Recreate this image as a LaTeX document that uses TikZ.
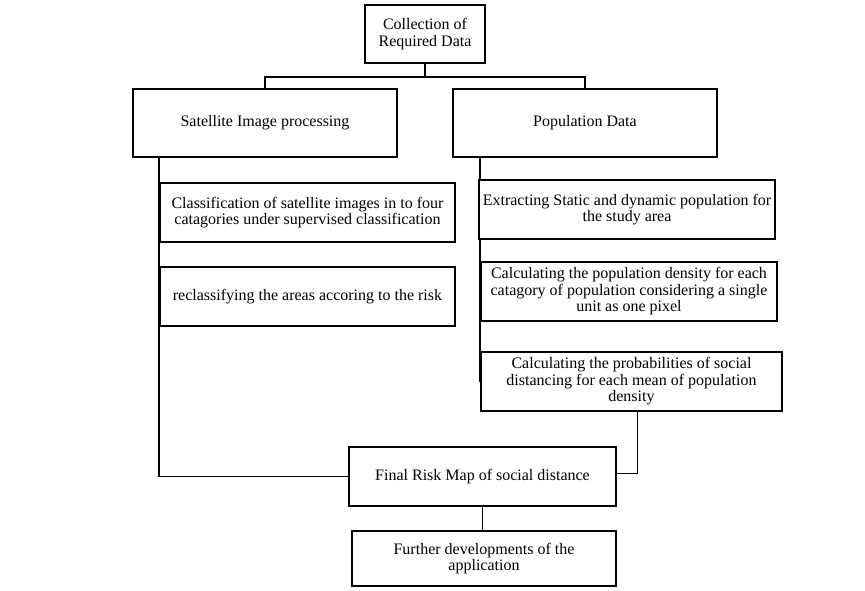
\documentclass[tikz,border=0pt]{standalone}
\usepackage{fontspec}
\setmainfont{Liberation Serif}
\begin{document}
\begin{tikzpicture}[x=1pt,y=-1pt,
  box/.style={draw=black, line width=1.6pt, fill=white, inner sep=1pt, align=center,
    font=\fontsize{16}{16.5}\selectfont},
  thickline/.style={draw=black, line width=1.6pt},
  thinline/.style={draw=black, line width=0.9pt}]
\useasboundingbox (0,0) rectangle (865,591);
\coordinate (bus) at (425,77);
\coordinate (rend) at (480,382);
\node[box, minimum width=120pt, minimum height=58pt] (top) at (425,34) {Collection of\\Required Data};
\node[box, minimum width=264pt, minimum height=68pt] (sat) at (265,123) {Satellite Image processing};
\node[box, minimum width=264pt, minimum height=68pt] (pop) at (585,123) {Population Data};
\draw[thickline] (top.south) -- (bus);
\draw[thickline] (sat.north) |- (bus) -| (pop.north);
\node[box, minimum width=295pt, minimum height=59pt] (cls) at (307.5,212.5) {Classification of satellite images in to four\\catagories under supervised classification};
\node[box, minimum width=295pt, minimum height=59pt] (recls) at (307.5,296.5) {reclassifying the areas accoring to the risk};
\node[box, minimum width=267pt, minimum height=59pt] (final) at (482.5,476.5) {Final Risk Map of social distance};
\draw[thickline] (sat.south -| cls.west) |- (final.west);
\draw[thickline] (pop.south -| rend) -- (rend);
\node[box, minimum width=296pt, minimum height=59pt] (ext) at (627,209.5) {Extracting Static and dynamic population for\\the study area};
\node[box, minimum width=296pt, minimum height=59pt] (dens) at (629,291.5) {Calculating the population density for each\\catagory of population considering a single\\unit as one pixel};
\node[box, minimum width=301pt, minimum height=59pt] (prob) at (631.5,381.5) {Calculating the probabilities of social\\distancing for each mean of population\\density};
\draw[thinline] ([xshift=6pt]prob.south) |- ([yshift=3.5pt]final.east);
\node[box, minimum width=264pt, minimum height=55pt] (further) at (484,558.5) {Further developments of the\\application};
\draw[thinline] (final.south) -- (final.south |- further.north);
\end{tikzpicture}
\end{document}
